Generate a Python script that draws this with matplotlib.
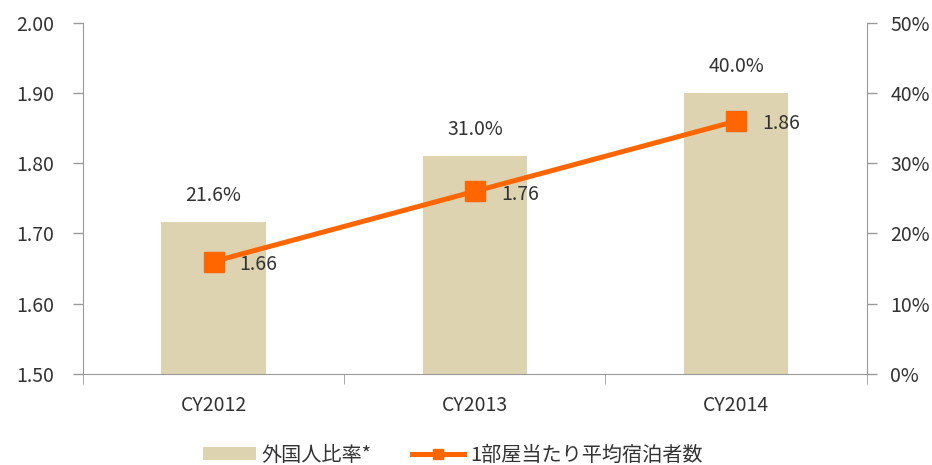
import matplotlib
matplotlib.use('Agg')
import matplotlib.pyplot as plt
import numpy as np

plt.rcParams['font.family'] = ['Noto Sans CJK JP', 'DejaVu Sans']

categories = ['CY2012', 'CY2013', 'CY2014']
foreign_ratio = [21.6, 31.0, 40.0]        # %  (right axis, bars)
guests_per_room = [1.66, 1.76, 1.86]      # left axis, line

bar_color = '#ddd3b1'
line_color = '#ff6600'
text_color = '#333333'
spine_color = '#999999'
fs = 14

fig = plt.figure(figsize=(9.32, 4.65), dpi=100)
ax = fig.add_axes([0.089, 0.196, 0.841, 0.755])
ax2 = ax.twinx()

x = np.arange(len(categories))

# bars on the right (%) axis
bars = ax2.bar(x, foreign_ratio, width=0.4, color=bar_color, zorder=1)
for xi, v in zip(x, foreign_ratio):
    ax2.text(xi, v + 2.3, f"{v:.1f}%", ha='center', va='bottom', fontsize=fs, color=text_color)
ax2.set_ylim(0, 50)
ax2.set_yticks(np.arange(0, 51, 10))
ax2.set_yticklabels([f"{t}%" for t in range(0, 51, 10)])

# line on the left axis, drawn above the bars
ax.set_zorder(ax2.get_zorder() + 1)
ax.patch.set_visible(False)
line, = ax.plot(x, guests_per_room, color=line_color, linewidth=3.6, marker='s',
                markersize=14.5, zorder=3)
for xi, v in zip(x, guests_per_room):
    ax.text(xi + 0.1, v - 0.004, f"{v:.2f}", ha='left', va='center', fontsize=fs, color=text_color)
ax.set_ylim(1.5, 2.0)
ax.set_yticks(np.arange(1.5, 2.01, 0.1))
ax.set_yticklabels([f"{t:.2f}" for t in np.arange(1.5, 2.01, 0.1)])
ax.set_xlim(-0.5, 2.5)
ax.set_xticks(x)
ax.set_xticklabels(categories)
ax.set_xticks([-0.5, 0.5, 1.5, 2.5], minor=True)
ax.tick_params(axis='x', which='major', length=0, pad=15)
ax.tick_params(axis='x', which='minor', length=7, direction='out', color=spine_color)

for a in (ax, ax2):
    for s in a.spines.values():
        s.set_visible(False)
    a.tick_params(axis='y', labelsize=fs, labelcolor=text_color, color=spine_color, length=7, width=1)
ax.tick_params(axis='y', pad=14)
ax2.tick_params(axis='y', pad=10)
ax.tick_params(axis='x', labelsize=fs, labelcolor=text_color)
ax.spines['left'].set_visible(True)
ax.spines['left'].set_color(spine_color)
ax.spines['bottom'].set_visible(True)
ax.spines['bottom'].set_color(spine_color)
ax2.spines['right'].set_visible(True)
ax2.spines['right'].set_color(spine_color)

fig.legend([bars, line], ['外国人比率*', '1部屋当たり平均宿泊者数'],
           loc='center', bbox_to_anchor=(0.486, 1 - 455 / 465), ncol=2, frameon=False,
           fontsize=14.5, labelcolor=text_color, handlelength=2.6, handleheight=0.65,
           columnspacing=2.0, handletextpad=0.3, markerscale=0.5,
           borderpad=0, borderaxespad=0)

plt.savefig('out.png', dpi=100)
plt.close()
